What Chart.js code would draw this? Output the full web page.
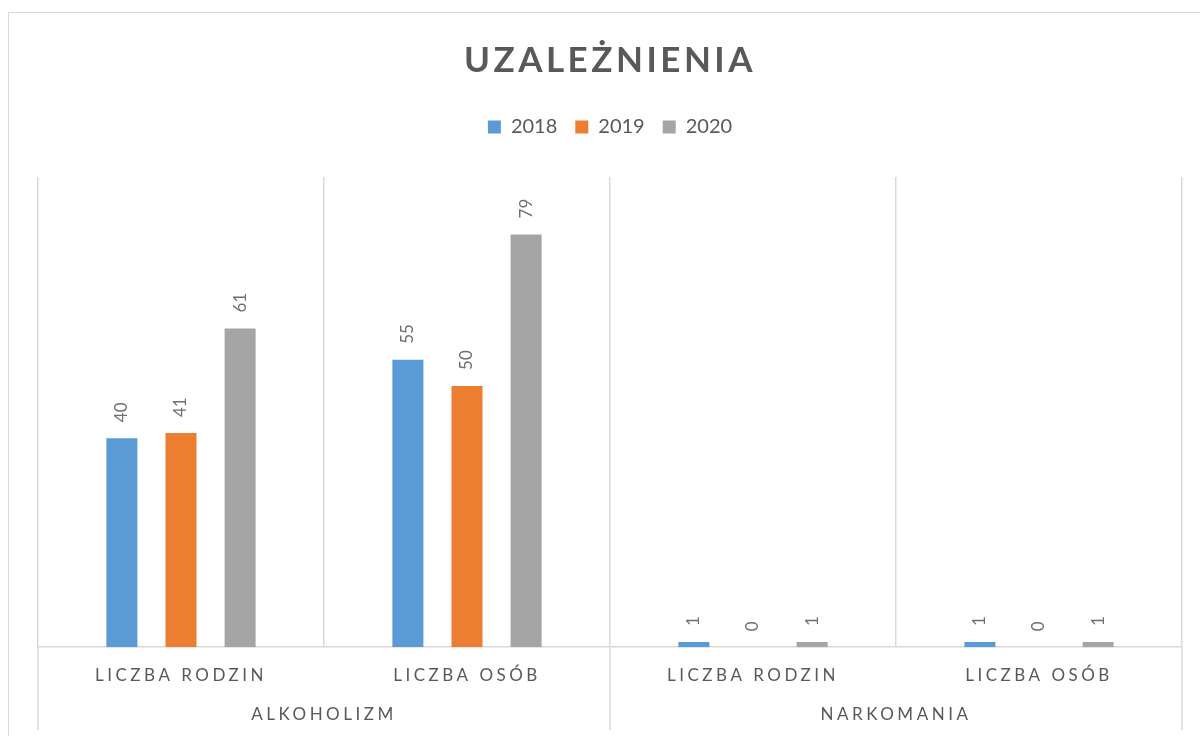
<!DOCTYPE html>
<html>
<head>
<meta charset="utf-8">
<script src="https://cdn.jsdelivr.net/npm/chart.js@4/dist/chart.umd.min.js"></script>
<style>
    html, body { margin: 0; padding: 0; background: #fff; overflow: hidden; }
    #frame {
        position: absolute; left: 8px; top: 12px; width: 1400px; height: 1000px;
        border: 1.75px solid #d9d9d9; box-sizing: border-box;
    }
    #wrap { position: absolute; left: 0; top: 0; width: 1200px; height: 736px; }
</style>
</head>
<body>
<div id="frame"></div>
<div id="wrap"><canvas id="chart"></canvas></div>
<script>
// chart data
const categories = ['LICZBA RODZIN', 'LICZBA OSÓB', 'LICZBA RODZIN', 'LICZBA OSÓB'];
const groups = ['ALKOHOLIZM', 'NARKOMANIA'];
const years = ['2018', '2019', '2020'];
const values2018 = [40, 55, 1, 1];
const values2019 = [41, 50, 0, 0];
const values2020 = [61, 79, 1, 1];
const colors = ['#5b9bd5', '#ed7d31', '#a5a5a5'];

const textColor = '#595959';
const lineColor = '#d9d9d9';
const fontFamily = 'Lato, "Open Sans", sans-serif';

/**
 * Letter spacing for title and axis labels, extra room under the legend,
 * rotated value labels and the group separators of the category axis
 */
const excelLook = {
    id: 'excelLook',
    afterInit(chart) {
        const title = chart.titleBlock;
        const drawTitle = title.draw.bind(title);
        title.draw = function (area) {
            chart.ctx.letterSpacing = '3.5px';
            drawTitle(area);
            chart.ctx.letterSpacing = '0px';
        };
        const legend = chart.legend;
        const fitLegend = legend.fit.bind(legend);
        legend.fit = function () {
            fitLegend();
            this.height += 30;
        };
    },
    afterDatasetsDraw(chart) {
        const ctx = chart.ctx;
        const area = chart.chartArea;

        // group separators below the axis
        ctx.save();
        ctx.strokeStyle = lineColor;
        ctx.lineWidth = 1.5;
        [area.left, (area.left + area.right) / 2, area.right].forEach(px => {
            ctx.beginPath();
            ctx.moveTo(px, area.bottom);
            ctx.lineTo(px, chart.height - 6);
            ctx.stroke();
        });
        ctx.restore();

        // value labels, rotated
        ctx.save();
        ctx.letterSpacing = '0px';
        ctx.font = '17px ' + fontFamily;
        ctx.fillStyle = '#6f6f6f';
        ctx.textAlign = 'left';
        ctx.textBaseline = 'middle';
        chart.data.datasets.forEach((ds, i) => {
            chart.getDatasetMeta(i).data.forEach((bar, j) => {
                ctx.save();
                ctx.translate(bar.x, bar.y - 16);
                ctx.rotate(-Math.PI / 2);
                ctx.fillText(String(ds.data[j]), 0, 0);
                ctx.restore();
            });
        });
        ctx.restore();

        // axis labels are drawn after this (ticks.z = 1)
        ctx.letterSpacing = '3.5px';
    },
    afterDraw(chart) {
        chart.ctx.letterSpacing = '0px';
    }
};

const seriesValues = [values2018, values2019, values2020];

new Chart(document.getElementById('chart'), {
    type: 'bar',
    data: {
        labels: categories,
        datasets: years.map((year, i) => ({
            label: year,
            data: seriesValues[i],
            backgroundColor: colors[i],
            borderWidth: 0,
            categoryPercentage: 0.62,
            barPercentage: 0.525
        }))
    },
    options: {
        responsive: true,
        maintainAspectRatio: false,
        animation: false,
        layout: {
            padding: { left: 38, right: 18, top: 0, bottom: 10 }
        },
        plugins: {
            title: {
                display: true,
                text: 'UZALEŻNIENIA',
                color: textColor,
                font: { family: fontFamily, size: 35, weight: 'bold', lineHeight: 1.2 },
                padding: { top: 40, bottom: 17 }
            },
            legend: {
                position: 'top',
                labels: {
                    color: textColor,
                    font: { family: fontFamily, size: 20 },
                    boxWidth: 13,
                    boxHeight: 13,
                    padding: 18
                }
            },
            tooltip: { enabled: false }
        },
        scales: {
            x: {
                position: 'bottom',
                offset: true,
                grid: {
                    offset: true,
                    color: lineColor,
                    lineWidth: 1.5,
                    drawTicks: false
                },
                border: { color: lineColor, width: 1.5 },
                ticks: {
                    z: 1,
                    color: textColor,
                    font: { family: fontFamily, size: 17 },
                    padding: 18,
                    autoSkip: false,
                    maxRotation: 0
                }
            },
            x2: {
                type: 'category',
                position: 'bottom',
                labels: groups,
                offset: true,
                grid: { display: false, drawTicks: false },
                border: { display: false },
                ticks: {
                    z: 1,
                    color: textColor,
                    font: { family: fontFamily, size: 17 },
                    padding: 1,
                    autoSkip: false,
                    maxRotation: 0
                }
            },
            y: {
                display: false,
                min: 0,
                max: 90
            }
        }
    },
    plugins: [excelLook]
});
</script>
</body>
</html>
